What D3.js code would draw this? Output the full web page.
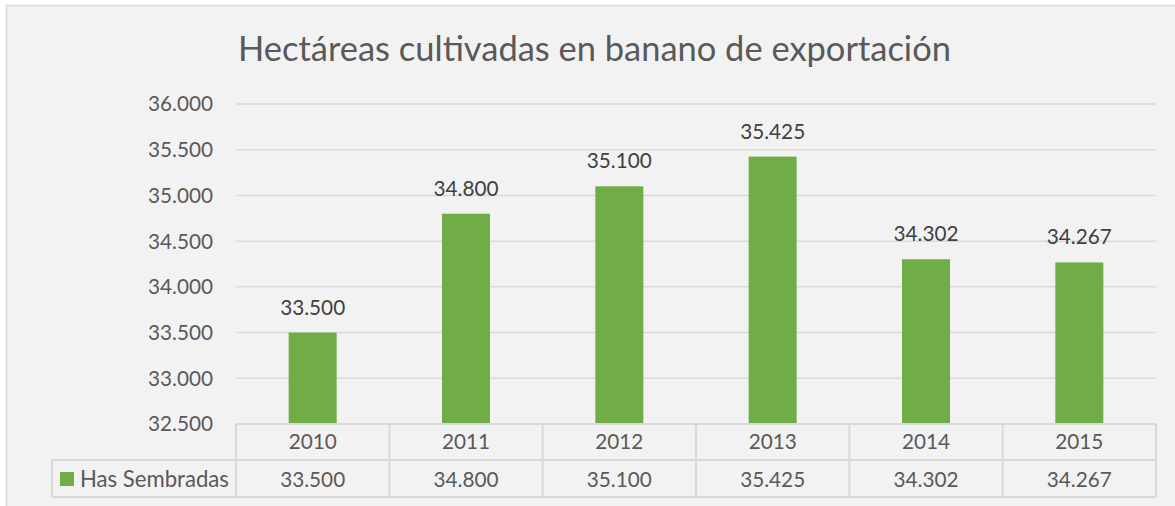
<!DOCTYPE html>
<html><head><meta charset="utf-8">
<script src="https://cdn.jsdelivr.net/npm/d3@7"></script>
<style>html,body{margin:0;padding:0;background:#fff;}svg{display:block;}</style>
</head><body>
<svg id="c" width="1175" height="506"></svg>
<script>
const title = "Hectáreas cultivadas en banano de exportación";
const years = ["2010","2011","2012","2013","2014","2015"];
const hasSembradas = [33500, 34800, 35100, 35425, 34302, 34267];
const seriesName = "Has Sembradas";
const yTicks = [32500, 33000, 33500, 34000, 34500, 35000, 35500, 36000];

(function(){
const loc = d3.formatLocale({decimal:",", thousands:".", grouping:[3], currency:["","€"]});
const fmt = loc.format(",d");

const FONT = "Lato, 'Open Sans', sans-serif";
const TXT = "#595959";
const GRID = "#d9d9d9";
const BAR = "#70ad47";

const svg = d3.select("#c");
svg.append("rect").attr("x",6.5).attr("y",5.5).attr("width",1300).attr("height",700)
  .attr("fill","#f2f2f2").attr("stroke","#d9d9d9").attr("stroke-width",1.5);

const pLeft = 236, pRight = 1156, pTop = 104, pBottom = 424;
const x = d3.scaleBand().domain(years).range([pLeft,pRight]).paddingInner(0.687).paddingOuter(0.3435);
const xc = d3.scaleBand().domain(years).range([pLeft,pRight]).padding(0);
const y = d3.scaleLinear().domain([32500,36000]).range([pBottom,pTop]);

function fit(sel, target, base){
  sel.attr("font-size", base);
  const w = sel.node().getComputedTextLength();
  sel.attr("font-size", base*target/w);
  return base*target/w;
}

const t = svg.append("text").text(title).attr("x",594.5).attr("y",61)
  .attr("text-anchor","middle").attr("fill",TXT).attr("font-family",FONT);
fit(t, 713, 30);

svg.append("g").selectAll("line").data(yTicks).join("line")
  .attr("x1",pLeft).attr("x2",pRight).attr("y1",d=>y(d)).attr("y2",d=>y(d))
  .attr("stroke",GRID).attr("stroke-width",1.5);

const probe = svg.append("text").text(fmt(36000)).attr("font-family",FONT);
const tfs = fit(probe, 65, 20); probe.remove();
svg.append("g").selectAll("text").data(yTicks).join("text")
  .text(d=>fmt(d)).attr("x",213).attr("y",d=>y(d)+tfs*0.36)
  .attr("text-anchor","end").attr("fill",TXT).attr("font-family",FONT).attr("font-size",tfs);

svg.append("g").selectAll("rect").data(hasSembradas).join("rect")
  .attr("x",(d,i)=>x(years[i])).attr("width",x.bandwidth())
  .attr("y",d=>y(d)).attr("height",d=>pBottom-y(d)).attr("fill",BAR);

svg.append("g").selectAll("text").data(hasSembradas).join("text")
  .text(d=>fmt(d)).attr("x",(d,i)=>x(years[i])+x.bandwidth()/2).attr("y",d=>y(d)-18)
  .attr("text-anchor","middle").attr("fill","#404040").attr("font-family",FONT).attr("font-size",tfs);

const r1 = 460, r2 = 497, lx = 52;
const tg = svg.append("g").attr("stroke","#d9d9d9").attr("stroke-width",2).attr("fill","none");
tg.append("line").attr("x1",pLeft).attr("x2",pRight).attr("y1",pBottom).attr("y2",pBottom);
tg.append("line").attr("x1",lx).attr("x2",pRight).attr("y1",r1).attr("y2",r1);
tg.append("line").attr("x1",lx).attr("x2",pRight).attr("y1",r2).attr("y2",r2);
tg.append("line").attr("x1",lx).attr("x2",lx).attr("y1",r1).attr("y2",r2);
tg.selectAll("line.v").data(years.concat(["end"])).join("line").attr("class","v")
  .attr("x1",(d,i)=>pLeft+i*xc.step()).attr("x2",(d,i)=>pLeft+i*xc.step())
  .attr("y1",pBottom).attr("y2",r2);

svg.append("g").selectAll("text").data(years).join("text")
  .text(d=>d).attr("x",d=>xc(d)+xc.bandwidth()/2).attr("y",449.3)
  .attr("text-anchor","middle").attr("fill",TXT).attr("font-family",FONT).attr("font-size",tfs);
svg.append("g").selectAll("text").data(hasSembradas).join("text")
  .text(d=>fmt(d)).attr("x",(d,i)=>xc(years[i])+xc.bandwidth()/2).attr("y",486.7)
  .attr("text-anchor","middle").attr("fill",TXT).attr("font-family",FONT).attr("font-size",tfs);

svg.append("rect").attr("x",60).attr("y",472).attr("width",14).attr("height",14).attr("fill",BAR);
const lt = svg.append("text").text(seriesName).attr("x",80).attr("y",486.7)
  .attr("fill",TXT).attr("font-family",FONT);
fit(lt, 149, tfs);
})();
</script>
</body></html>
